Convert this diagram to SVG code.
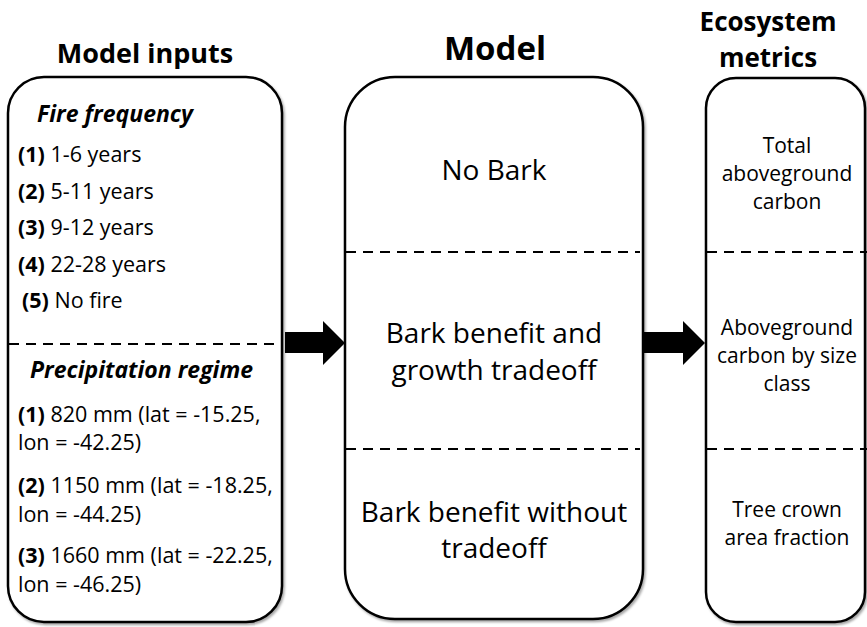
<svg xmlns="http://www.w3.org/2000/svg" width="867" height="627" viewBox="0 0 867 627">
<defs>
<filter id="sh" x="-5%" y="-5%" width="110%" height="110%">
<feDropShadow dx="1.5" dy="2" stdDeviation="1.2" flood-color="#000" flood-opacity="0.35"/>
</filter>
<style>
.box{fill:#fff;stroke:#000;stroke-width:2.5;filter:url(#sh)}
.dash{stroke:#000;stroke-width:2;stroke-dasharray:10 7;fill:none}
text{font-family:"Open Sans","Liberation Sans",sans-serif;fill:#000}
.h{font-weight:700;font-size:26px;text-anchor:middle}
.hi{font-weight:700;font-style:italic;font-size:23px}
.it{font-size:21.5px}
.b{font-weight:700}
.m{font-size:28px;text-anchor:middle}
.r{font-size:21px;text-anchor:middle}
.arrow{fill:#000}
</style>
</defs>
<rect width="867" height="627" fill="#fff"/>
<text class="h" x="145" y="63" style="font-size:27px">Model inputs</text>
<text class="h" x="495" y="60" style="font-size:33px">Model</text>
<text class="h" x="768" y="31">Ecosystem</text>
<text class="h" x="768" y="67">metrics</text>

<g id="inputs">
<rect class="box" x="8" y="77" width="274" height="545" rx="36" ry="36"/>
<line class="dash" x1="9" y1="344" x2="281" y2="344"/>
<text class="hi" x="37" y="122">Fire frequency</text>
<text class="it" x="18" y="162"><tspan class="b">(1)</tspan> 1-6 years</text>
<text class="it" x="18" y="199"><tspan class="b">(2)</tspan> 5-11 years</text>
<text class="it" x="18" y="235"><tspan class="b">(3)</tspan> 9-12 years</text>
<text class="it" x="18" y="272"><tspan class="b">(4)</tspan> 22-28 years</text>
<text class="it" x="22" y="308"><tspan class="b">(5)</tspan> No fire</text>
<text class="hi" x="30" y="378">Precipitation regime</text>
<text class="it" x="18" y="422"><tspan class="b">(1)</tspan> 820 mm (lat = -15.25,</text>
<text class="it" x="18" y="450">lon = -42.25)</text>
<text class="it" x="18" y="493"><tspan class="b">(2)</tspan> 1150 mm (lat = -18.25,</text>
<text class="it" x="18" y="522">lon = -44.25)</text>
<text class="it" x="18" y="563"><tspan class="b">(3)</tspan> 1660 mm (lat = -22.25,</text>
<text class="it" x="18" y="592">lon = -46.25)</text>
</g>

<g id="model">
<rect class="box" x="345" y="77" width="298" height="542" rx="50" ry="50"/>
<line class="dash" x1="346" y1="252" x2="640" y2="252"/>
<line class="dash" x1="346" y1="449" x2="640" y2="449"/>
<text class="m" x="494" y="180">No Bark</text>
<text class="m" x="494" y="343">Bark benefit and</text>
<text class="m" x="494" y="380">growth tradeoff</text>
<text class="m" x="494" y="522">Bark benefit without</text>
<text class="m" x="494" y="558">tradeoff</text>
</g>

<g id="metrics">
<rect class="box" x="706" y="78" width="159" height="544" rx="30" ry="30"/>
<line class="dash" x1="707" y1="252" x2="867" y2="252"/>
<line class="dash" x1="707" y1="449" x2="867" y2="449"/>
<text class="r" x="787" y="153">Total</text>
<text class="r" x="787" y="181">aboveground</text>
<text class="r" x="787" y="209">carbon</text>
<text class="r" x="787" y="335">Aboveground</text>
<text class="r" x="787" y="363">carbon by size</text>
<text class="r" x="787" y="391">class</text>
<text class="r" x="787" y="517">Tree crown</text>
<text class="r" x="787" y="545">area fraction</text>
</g>

<g id="connectors">
<polygon class="arrow" points="285,332 323,332 323,321 345,343 323,365 323,353 285,353"/>
<polygon class="arrow" points="643,332 683,332 683,321 705,343 683,365 683,353 643,353"/>
</g>
</svg>
